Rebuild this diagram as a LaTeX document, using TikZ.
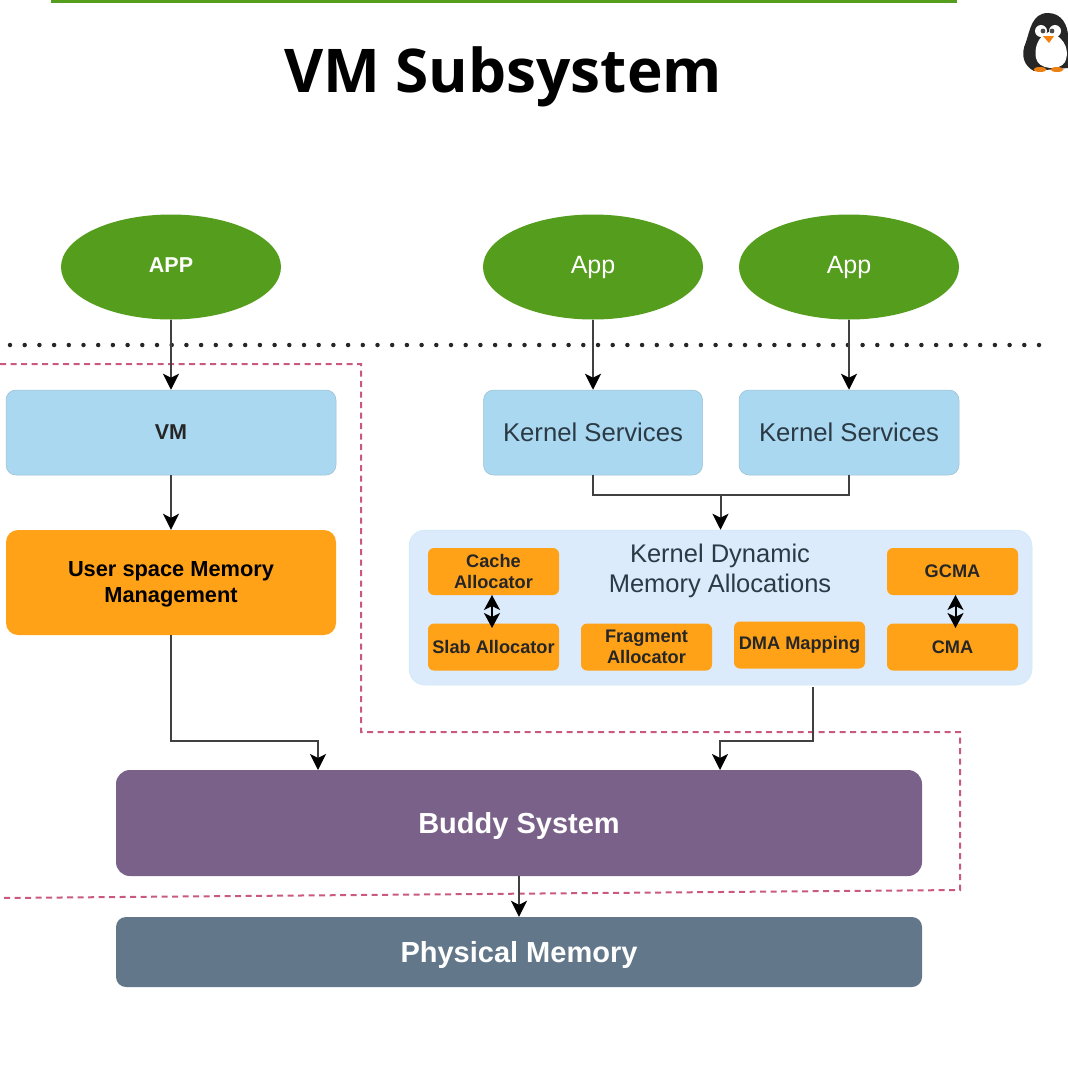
\documentclass[tikz,border=0pt]{standalone}
\usepackage{fontspec}
\setmainfont{Liberation Sans}
\newfontfamily\titlefont{Open Sans}
\usetikzlibrary{arrows.meta,calc,positioning,shapes.geometric}
\definecolor{appgreen}{HTML}{559D1C}
\definecolor{svcblue}{HTML}{A9D8F0}
\definecolor{memorange}{HTML}{FFA217}
\definecolor{dynblue}{HTML}{DCEBFB}
\definecolor{buddypurple}{HTML}{7A6189}
\definecolor{physslate}{HTML}{62788A}
\definecolor{zonepink}{HTML}{C9597F}
\definecolor{txtdark}{HTML}{2B3A45}
\tikzset{%
	appnode/.style  = {ellipse, fill=appgreen, text=white, minimum width=220pt, minimum height=105pt, inner sep=0pt, font=\fontsize{25}{27}\selectfont},
	svcbox/.style   = {rectangle, rounded corners=10pt, fill=svcblue, draw=svcblue!85!black!90, line width=0.5pt, minimum height=85pt, text=txtdark, inner sep=0pt, align=center, font=\fontsize{25.7}{28}\selectfont},
	umbox/.style    = {rectangle, rounded corners=12pt, fill=memorange, minimum width=330pt, minimum height=105pt, inner sep=0pt, align=center, font=\fontsize{21.8}{26}\selectfont\bfseries},
	allocbox/.style = {rectangle, rounded corners=6pt, fill=memorange, minimum width=131pt, minimum height=47pt, inner sep=0pt, align=center, text=black!85, font=\fontsize{18.2}{21}\selectfont\bfseries},
	bigbox/.style   = {rectangle, rounded corners=14pt, minimum width=806pt, inner sep=0pt, text=white, text height=26pt, text depth=6pt, font=\fontsize{29}{31}\selectfont\bfseries},
	arrow/.style    = {line width=2pt, draw=black!75, -{Stealth[length=16pt,width=16pt,inset=4pt,fill=black,color=black]}},
	twoway/.style   = {line width=2pt, draw=black, {Stealth[length=15pt,width=16pt,inset=4pt]}-{Stealth[length=15pt,width=16pt,inset=4pt]}},
	zone/.style     = {line width=2pt, draw=zonepink, dash pattern=on 6pt off 4.5pt},
}
\begin{document}
\begin{tikzpicture}[x=1pt,y=-1pt]
	\useasboundingbox (0,0) rectangle (1068,1080);
	\fill[appgreen] (51,0) rectangle (957,3);
	\node[font=\titlefont\fontsize{60.3}{64}\selectfont\bfseries] (title) at (503,77) {VM Subsystem};

	% penguin
	\fill[black!85] (1034,71) .. controls (1024,66) and (1020,55) .. (1026,42) .. controls (1030,30) and (1032,13) .. (1048,13) .. controls (1062,13) and (1068,26) .. (1068,36) -- (1068,68) -- cycle;
	\fill[white] (1049,32) .. controls (1037,36) and (1034,50) .. (1036,58) .. controls (1038,70) and (1060,71) .. (1065,62) .. controls (1069,54) and (1068,38) .. (1049,32) -- cycle;
	\fill[white] (1041,31) circle (6pt) (1055,31) circle (6pt);
	\fill[black!70] (1043,31) circle (2.4pt) (1052,31) circle (2.4pt);
	\fill[orange!85!brown] (1043,36) -- (1054,36) -- (1049,43) -- cycle;
	\fill[orange!70!brown] (1040,69.5) ellipse (6.5pt and 2.5pt) (1057,69.5) ellipse (6.5pt and 2.5pt);

	% user / kernel boundary
	\draw[line width=4.5pt, line cap=round, dash pattern=on 0pt off 14.7pt, black!85] (10,345) -- (1040,345);
	\draw[zone] (0,364) -- (361,364) -- (361,732) -- (960,732) -- (960,890) -- (0,898);

	\node[appnode, text depth=4pt, font=\fontsize{21.5}{24}\selectfont\bfseries] (appu) at (171,267) {APP};
	\node[appnode] (appa) at (593,267) {App};
	\node[appnode] (appb) at (849,267) {App};

	\node[svcbox, minimum width=330pt, font=\fontsize{21.5}{24}\selectfont\bfseries, text=black!85] (vm) at (171,432.5) {VM};
	\node[svcbox, minimum width=219pt] (ksa) at (593,432.5) {Kernel Services};
	\node[svcbox, minimum width=220pt] (ksb) at (849,432.5) {Kernel Services};
	\node[umbox] (umm) at (171,582.5) {\rule{0pt}{19pt}User space Memory\\Management};

	\node[rectangle, rounded corners=16pt, fill=dynblue, draw=svcblue!60, line width=0.5pt, minimum width=623pt, minimum height=155pt] (kdm) at (720.5,607.5) {};
	\node[text=txtdark, align=center, font=\fontsize{25.5}{30}\selectfont] (kdmlabel) at (720,571) {Kernel Dynamic\\Memory Allocations};

	\node[allocbox] (cache) at (493.5,571.5) {Cache\\Allocator};
	\node[allocbox] (slab) at (493.5,647) {Slab Allocator};
	\node[allocbox] (frag) at (646.5,647) {Fragment\\Allocator};
	\node[allocbox] (dma) at (799.5,645) {DMA Mapping};
	\node[allocbox] (gcma) at (952.5,571.5) {GCMA};
	\node[allocbox] (cma) at (952.5,647) {CMA};

	\node[bigbox, fill=buddypurple, minimum height=106pt] (buddy) at (519,823) {Buddy System};
	\node[bigbox, fill=physslate, rounded corners=10pt, minimum height=70pt] (phys) at (519,952) {Physical Memory};

	\coordinate (buddyl) at (318,770);
	\coordinate (buddyr) at (720,770);
	\coordinate (kdmout) at (813,687);
	\coordinate (twol) at (492,595);
	\coordinate (twolb) at (492,628);
	\coordinate (twor) at (955.5,595);
	\coordinate (tworb) at (955.5,628);

	\draw[arrow] (appu.south) -- (vm.north);
	\draw[arrow] (appa.south) -- (ksa.north);
	\draw[arrow] (appb.south) -- (ksb.north);
	\draw[arrow] (vm.south) -- (umm.north);
	\draw[line width=2pt, draw=black!75] (ksa.south) |- (720.5,495) -| (ksb.south);
	\draw[arrow] (720.5,495) -- (kdm.north);
	\draw[arrow] (umm.south) |- (318,741) -- (buddyl);
	\draw[arrow] (kdmout) |- (720,741) -- (buddyr);
	\draw[arrow] (buddy.south) -- (phys.north);
	\draw[twoway] (twol) -- (twolb);
	\draw[twoway] (twor) -- (tworb);
\end{tikzpicture}
\end{document}
